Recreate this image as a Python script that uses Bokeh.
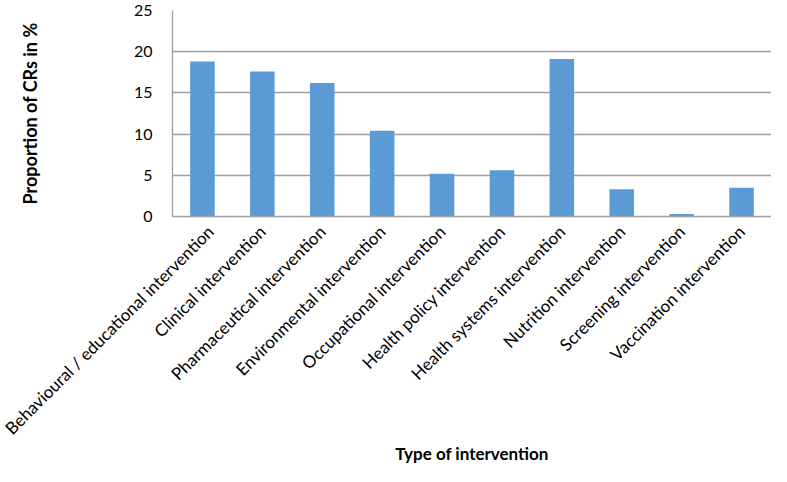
import math
from bokeh.plotting import figure
from bokeh.models import Range1d, FixedTicker
from bokeh.embed import file_html
from bokeh.resources import INLINE

categories = [
    "Behavioural / educational intervention",
    "Clinical intervention",
    "Pharmaceutical intervention",
    "Environmental intervention",
    "Occupational intervention",
    "Health policy intervention",
    "Health systems intervention",
    "Nutrition intervention",
    "Screening intervention",
    "Vaccination intervention",
]
values = [18.8, 17.6, 16.2, 10.4, 5.2, 5.6, 19.1, 3.3, 0.3, 3.5]
y_ticks = [0, 5, 10, 15, 20, 25]

FONT = "Lato"

p = figure(
    x_range=categories,
    y_range=Range1d(0, 25),
    width=771,
    height=466,
    output_backend="svg",
    toolbar_location=None,
    min_border_left=172,
    min_border_right=0,
    min_border_top=10,
    min_border_bottom=240,
)

p.vbar(x=categories, top=values, width=0.41, color="#5B9BD5", line_color=None)

p.outline_line_color = None
p.background_fill_color = "white"
p.border_fill_color = "white"

p.xgrid.grid_line_color = None
p.ygrid.grid_line_color = "#9e9e9e"
p.ygrid.grid_line_width = 1.3

p.yaxis.ticker = FixedTicker(ticks=y_ticks)
for ax in (p.xaxis[0], p.yaxis[0]):
    ax.axis_line_color = "#9e9e9e"
    ax.axis_line_width = 1.3
    ax.major_tick_line_color = None
    ax.minor_tick_line_color = None
    ax.major_label_text_font = FONT
    ax.major_label_text_color = "black"
    ax.axis_label_text_font = FONT
    ax.axis_label_text_font_style = "bold"
    ax.axis_label_text_color = "black"

p.yaxis.axis_label = "Proportion of CRs in %"
p.yaxis.major_label_text_font_size = "16px"
p.yaxis.axis_label_text_font_size = "18px"
p.yaxis.major_label_standoff = 14
p.yaxis.axis_label_standoff = 90

p.xaxis.axis_label = "Type of intervention"
p.xaxis.major_label_text_font_size = "17px"
p.xaxis.axis_label_text_font_size = "17px"
p.xaxis.major_label_orientation = math.pi / 4
p.xaxis.major_label_standoff = 6
p.xaxis.axis_label_standoff = -6

open("out.html", "w").write(file_html(p, INLINE))
